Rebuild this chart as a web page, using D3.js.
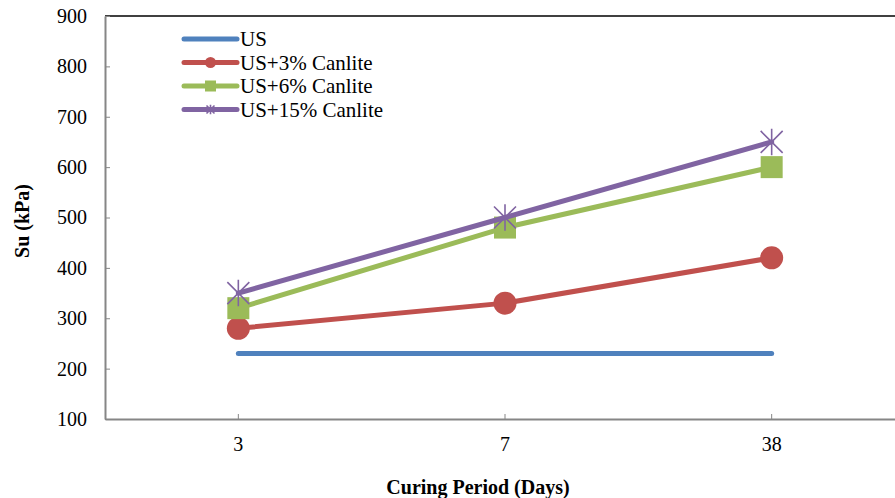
<!DOCTYPE html>
<html>
<head>
<meta charset="utf-8">
<script src="https://cdn.jsdelivr.net/npm/d3@7"></script>
<style>
  body { margin: 0; background: #fff; }
</style>
</head>
<body>
<svg id="chart" width="895" height="498"></svg>
<script>
  // curing periods (days) shown as categories
  const periods = ["3", "7", "38"];
  const yTicks = [100, 200, 300, 400, 500, 600, 700, 800, 900];

  const seriesNames = ["US", "US+3% Canlite", "US+6% Canlite", "US+15% Canlite"];
  const us     = [230, 230, 230];
  const us3    = [280, 330, 420];
  const us6    = [320, 480, 600];
  const us15   = [350, 500, 650];

  const colors  = ["#4F81BD", "#C0504D", "#9BBB59", "#8064A2"];
  const markers = ["none", "circle", "square", "star"];

  const serif = "Liberation Serif, DejaVu Serif, serif";

  const svg = d3.select("#chart");

  // plot area, runs past the right edge of the picture like the original
  const plot = { left: 105, top: 16, right: 905, bottom: 419 };

  const x = d3.scaleBand()
    .domain(periods)
    .range([plot.left, plot.right]);

  const y = d3.scaleLinear()
    .domain([100, 900])
    .range([plot.bottom, plot.top]);

  const cx = d => x(d) + x.bandwidth() / 2;

  // top border
  svg.append("line")
    .attr("x1", plot.left).attr("x2", plot.right)
    .attr("y1", plot.top).attr("y2", plot.top)
    .attr("stroke", "#000").attr("stroke-width", 1.5);

  // y axis
  const yAxis = svg.append("g")
    .attr("transform", "translate(" + plot.left + ",0)")
    .call(d3.axisLeft(y).tickValues(yTicks).tickSizeInner(-5).tickSizeOuter(0).tickPadding(18));
  yAxis.attr("font-family", serif).attr("font-size", 20);
  yAxis.select(".domain").attr("stroke", "#868686").attr("stroke-width", 2);
  yAxis.selectAll(".tick line").attr("stroke", "#868686");
  yAxis.selectAll("text").attr("fill", "#000");

  // x axis
  const xAxis = svg.append("g")
    .attr("transform", "translate(0," + plot.bottom + ")")
    .call(d3.axisBottom(x).tickSizeInner(-5).tickSizeOuter(0).tickPadding(18));
  xAxis.attr("font-family", serif).attr("font-size", 20);
  xAxis.select(".domain").attr("stroke", "#868686").attr("stroke-width", 2);
  xAxis.selectAll(".tick line").attr("stroke", "#868686");
  xAxis.selectAll("text").attr("fill", "#000");

  // axis titles
  svg.append("text")
    .attr("transform", "translate(29," + 221 + ") rotate(-90)")
    .attr("text-anchor", "middle")
    .attr("font-family", serif)
    .attr("font-size", 20)
    .attr("font-weight", "bold")
    .text("Su (kPa)");

  svg.append("text")
    .attr("x", 478).attr("y", 494)
    .attr("text-anchor", "middle")
    .attr("font-family", serif)
    .attr("font-size", 20)
    .attr("font-weight", "bold")
    .text("Curing Period (Days)");

  const allSeries = [us, us3, us6, us15];

  const line = d3.line()
    .x((d, i) => cx(periods[i]))
    .y(d => y(d));

  // draw a marker of a given kind centred on 0,0
  function drawMarker(g, kind, color, size) {
    if (kind === "circle") {
      g.append("circle").attr("r", size).attr("fill", color);
    } else if (kind === "square") {
      g.append("rect")
        .attr("x", -size).attr("y", -size)
        .attr("width", size * 2).attr("height", size * 2)
        .attr("fill", color);
    } else if (kind === "star") {
      const r = size;
      const p = d3.path();
      p.moveTo(-r, -r); p.lineTo(r, r);
      p.moveTo(-r, r); p.lineTo(r, -r);
      p.moveTo(0, -r * 1.2); p.lineTo(0, r * 1.2);
      g.append("path").attr("d", p.toString())
        .attr("stroke", color).attr("stroke-width", 1.6).attr("fill", "none");
    }
  }

  allSeries.forEach((vals, s) => {
    svg.append("path")
      .datum(vals)
      .attr("d", line)
      .attr("fill", "none")
      .attr("stroke", colors[s])
      .attr("stroke-width", 5)
      .attr("stroke-linecap", "round");

    if (markers[s] !== "none") {
      const size = markers[s] === "circle" ? 11.5 : 11;
      vals.forEach((v, i) => {
        const g = svg.append("g")
          .attr("transform", "translate(" + cx(periods[i]) + "," + y(v) + ")");
        drawMarker(g, markers[s], colors[s], size);
      });
    }
  });

  // legend
  const legend = svg.append("g").attr("transform", "translate(184,39)");
  seriesNames.forEach((name, s) => {
    const row = legend.append("g").attr("transform", "translate(0," + s * 23.5 + ")");
    row.append("line")
      .attr("x1", 0).attr("x2", 53)
      .attr("stroke", colors[s]).attr("stroke-width", 5)
      .attr("stroke-linecap", "round");
    if (markers[s] !== "none") {
      const mg = row.append("g").attr("transform", "translate(26.5,0)");
      drawMarker(mg, markers[s], colors[s], markers[s] === "star" ? 4 : 5.5);
    }
    row.append("text")
      .attr("x", 56).attr("y", 7)
      .attr("font-family", serif)
      .attr("font-size", 21)
      .text(name);
  });
</script>
</body>
</html>
